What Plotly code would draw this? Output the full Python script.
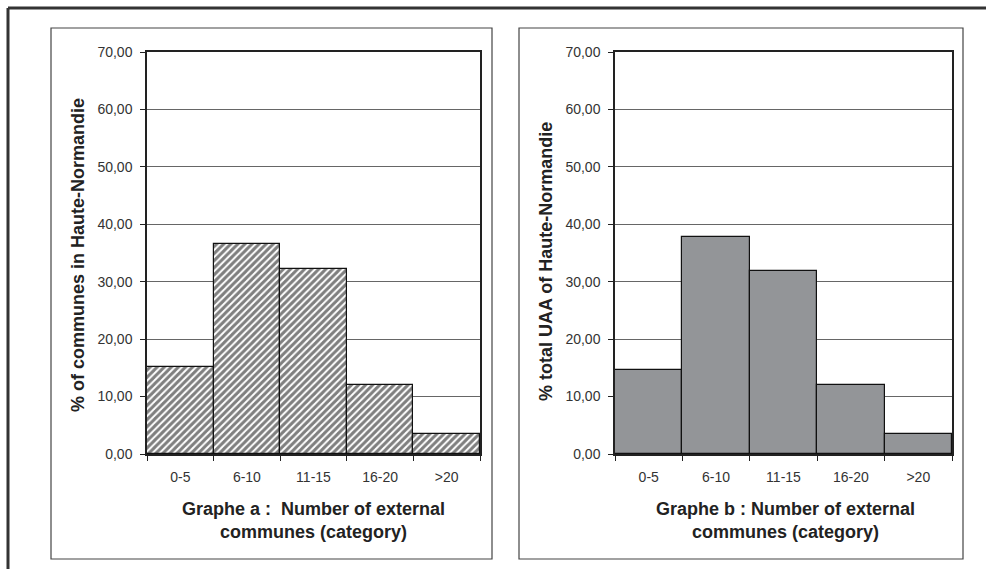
import plotly.graph_objects as go

categories = ["0-5", "6-10", "11-15", "16-20", ">20"]
communes_pct = [15.2, 36.6, 32.3, 12.0, 3.5]
uaa_pct = [14.6, 37.7, 31.9, 12.1, 3.4]
y_ticks = [0, 10, 20, 30, 40, 50, 60, 70]
y_tick_labels = ["0,00", "10,00", "20,00", "30,00", "40,00", "50,00", "60,00", "70,00"]

W, H = 986, 569
def px(x): return x / W
def py(y): return 1 - y / H

fig = go.Figure()
fig.add_trace(go.Bar(
    x=categories, y=communes_pct, xaxis="x", yaxis="y", width=1,
    marker=dict(color="white", line=dict(color="#111", width=1.2),
                pattern=dict(shape="/", fgcolor="#000", bgcolor="white", size=5, solidity=0.6)),
    showlegend=False, hoverinfo="x+y"))
fig.add_trace(go.Bar(
    x=categories, y=uaa_pct, xaxis="x2", yaxis="y2", width=1,
    marker=dict(color="#939598", line=dict(color="#111", width=1.2)),
    showlegend=False, hoverinfo="x+y"))

tickfont = dict(family="Liberation Sans, Arial, sans-serif", size=14, color="#333")
common_x = dict(type="category", showline=True, linecolor="#222", linewidth=1.5, mirror=True,
                ticks="outside", tickson="boundaries", ticklen=5, tickcolor="#222",
                ticklabelstandoff=9, tickfont=tickfont, showgrid=False, fixedrange=True,
                automargin=False)
common_y = dict(range=[0, 70], tickvals=y_ticks, ticktext=y_tick_labels, showline=True,
                linecolor="#222", linewidth=1.5, mirror=True, ticks="outside", ticklen=5,
                tickcolor="#222", ticklabelstandoff=5, tickfont=tickfont, showgrid=True,
                gridcolor="#666", gridwidth=1, zeroline=False, fixedrange=True,
                automargin=False)

fig.update_layout(
    width=W, height=H, margin=dict(l=0, r=0, t=0, b=0, pad=0, autoexpand=False),
    paper_bgcolor="white", plot_bgcolor="white", bargap=0,
    xaxis=dict(domain=[px(147), px(480)], anchor="y", **common_x),
    yaxis=dict(domain=[py(454), py(52)], anchor="x", **common_y),
    xaxis2=dict(domain=[px(615), px(952)], anchor="y2", **common_x),
    yaxis2=dict(domain=[py(454), py(52)], anchor="x2", **common_y),
)

shapes = [
    dict(type="line", xref="paper", yref="paper", x0=px(8), y0=py(8), x1=1.0, y1=py(8),
         line=dict(color="#333", width=3)),
    dict(type="line", xref="paper", yref="paper", x0=px(8), y0=py(8), x1=px(8), y1=0.0,
         line=dict(color="#333", width=3)),
    dict(type="rect", xref="paper", yref="paper", x0=px(51), y0=py(559), x1=px(492), y1=py(28),
         line=dict(color="#444", width=1.2)),
    dict(type="rect", xref="paper", yref="paper", x0=px(519), y0=py(559), x1=px(963), y1=py(28),
         line=dict(color="#444", width=1.2)),
]
fig.update_layout(shapes=shapes)

tfont = dict(family="Liberation Sans, Arial, sans-serif", size=18, color="#222")
annotations = [
    dict(text="<b>% of communes in Haute-Normandie</b>", xref="paper", yref="paper",
         x=px(78), y=py(255), textangle=-90, showarrow=False, font=tfont,
         xanchor="center", yanchor="middle"),
    dict(text="<b>% total UAA of Haute-Normandie</b>", xref="paper", yref="paper",
         x=px(546), y=py(262), textangle=-90, showarrow=False, font=tfont,
         xanchor="center", yanchor="middle"),
    dict(text="<b>Graphe a :  Number of external<br>communes (category)</b>", xref="paper", yref="paper",
         x=px(313), y=py(520), showarrow=False, font=tfont, xanchor="center", yanchor="middle"),
    dict(text="<b>Graphe b : Number of external<br>communes (category)</b>", xref="paper", yref="paper",
         x=px(785), y=py(520), showarrow=False, font=tfont, xanchor="center", yanchor="middle"),
]
fig.update_layout(annotations=annotations)

fig.write_html("out.html", config={"displayModeBar": False},
               post_script="document.body.style.margin='0';document.body.style.overflow='hidden';")
